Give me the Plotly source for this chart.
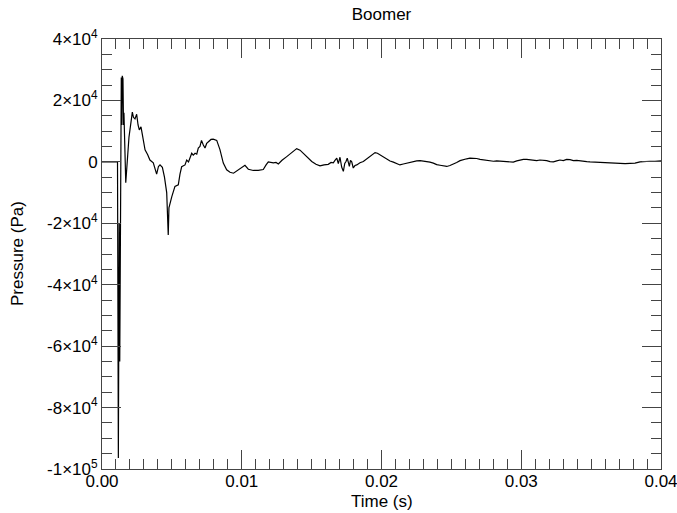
import plotly.graph_objects as go

# time (s) and pressure (Pa)
time_s = [
    0.0, 0.00050, 0.00100, 0.00111, 0.00117, 0.00123, 0.00127, 0.00138, 0.00142,
    0.00145, 0.00147, 0.00150, 0.00154, 0.00157, 0.00170, 0.00179, 0.00193,
    0.00217, 0.00225, 0.00236, 0.00248, 0.00258, 0.00267, 0.00279, 0.00293,
    0.00308, 0.00327, 0.00343, 0.00367, 0.00391, 0.00404, 0.00415, 0.00432,
    0.00447, 0.00463, 0.00474, 0.00479, 0.00487, 0.00499, 0.00522, 0.00546,
    0.00558, 0.00570, 0.00594, 0.00606, 0.00619, 0.00630, 0.00642, 0.00653,
    0.00666, 0.00678, 0.00689, 0.00701, 0.00712, 0.00725, 0.00737, 0.00749,
    0.00761, 0.00780, 0.00796, 0.00821, 0.00844, 0.00868, 0.00892, 0.00916,
    0.00941, 0.00964, 0.00988, 0.01002, 0.01023, 0.01047, 0.01083, 0.01118,
    0.01154, 0.01174, 0.01190, 0.01226, 0.01245, 0.01262, 0.01288, 0.01322,
    0.01358, 0.01393, 0.01417, 0.01441, 0.01474, 0.01501, 0.01531, 0.01560,
    0.01589, 0.01619, 0.01639, 0.01655, 0.01667, 0.01680, 0.01691, 0.01703,
    0.01715, 0.01727, 0.01737, 0.01746, 0.01755, 0.01770, 0.01778, 0.01787,
    0.01798, 0.01810, 0.01823, 0.01846, 0.01870, 0.01894, 0.01918, 0.01940,
    0.01954, 0.01971, 0.01989, 0.02013, 0.02037, 0.02061, 0.02085, 0.02109,
    0.02132, 0.02156, 0.02180, 0.02204, 0.02228, 0.02252, 0.02276, 0.02299,
    0.02323, 0.02347, 0.02371, 0.02395, 0.02419, 0.02443, 0.02467, 0.02490,
    0.02514, 0.02538, 0.02562, 0.02586, 0.02610, 0.02633, 0.02657, 0.02681,
    0.02705, 0.02729, 0.02753, 0.02777, 0.02801, 0.02824, 0.02848, 0.02872,
    0.02896, 0.02920, 0.02943, 0.02968, 0.02991, 0.03015, 0.03039, 0.03063,
    0.03086, 0.03111, 0.03134, 0.03158, 0.03182, 0.03206, 0.03230, 0.03254,
    0.03277, 0.03301, 0.03325, 0.03349, 0.03373, 0.03397, 0.03421, 0.03444,
    0.03469, 0.03492, 0.03528, 0.03564, 0.03599, 0.03635, 0.03671, 0.03707,
    0.03743, 0.03778, 0.03814, 0.03850, 0.03886, 0.03921, 0.03957, 0.04000,
]
pressure_pa = [
    0, 0, 0, 0, -96400, -20000, -65000, 27500, 12000,
    28000, 13000, 27000, 12000, 16000, -6800, -2000, 8000,
    16200, 14500, 14000, 15500, 12000, 10400, 11400, 7000,
    3900, 2300, 600, -300, -4000, -1500, -1000, -1800,
    -5000, -10000, -23800, -15000, -13300, -11400, -8000, -7500,
    -4000, -1600, -1000, 600, 0, 1700, 2800, 2200,
    2800, 2500, 4500, 5000, 7000, 5500, 4500, 6000,
    6600, 7300, 7400, 7000, 4000, -400, -2600, -3400,
    -3700, -3000, -2300, -2000, -1100, -2400, -2800, -2800,
    -2500, -1000, 0, -300, -200, -700, 500, 1700,
    3000, 4300, 3800, 2800, 1300, 100, -800, -1300,
    -1000, -800, -200, -300, 500, 1200, -600, 1500,
    -1700, -3100, -500, 100, 1200, -1500, 500, 0,
    -2000, -1200, -1000, -300, 100, 900, 1700, 2600,
    3000, 2800, 2300, 1600, 900, 300, -100, -600,
    -1000, -700, -400, -200, 100, 300, 400, 300,
    100, -100, -400, -900, -1100, -1400, -1500, -1200,
    -800, -200, 400, 800, 1000, 1200, 1200, 1100,
    800, 600, 500, 400, 200, 300, 200, 100,
    100, 0, -100, 300, 600, 800, 800, 600,
    500, 400, 600, 600, 400, 100, 0, 300,
    600, 400, 800, 700, 400, 500, 300, 200,
    100, 0, -100, -200, -400, -400, -600, -700,
    -600, -500, -400, 0, 200, 200, 200, 300,
]

y_ticks = [-100000, -80000, -60000, -40000, -20000, 0, 20000, 40000]
y_tick_text = ['-1×10<sup>5</sup>', '-8×10<sup>4</sup>', '-6×10<sup>4</sup>',
               '-4×10<sup>4</sup>', '-2×10<sup>4</sup>', '0',
               '2×10<sup>4</sup>', '4×10<sup>4</sup>']
x_ticks = [0.0, 0.01, 0.02, 0.03, 0.04]
x_tick_text = ['0.00', '0.01', '0.02', '0.03', '0.04']

font_family = 'Liberation Sans, Arial, sans-serif'

fig = go.Figure(go.Scatter(
    x=time_s, y=pressure_pa, mode='lines',
    line=dict(color='black', width=1.2),
    showlegend=False,
))

axis_common = dict(
    showgrid=False, zeroline=False, automargin=False,
    showline=True, linecolor='#444', linewidth=1,
    mirror='ticks', ticks='inside', ticklen=19, tickwidth=1, tickcolor='#444',
    tickfont=dict(family=font_family, size=17, color='black'),
    ticklabeloverflow='allow',
)

fig.update_xaxes(
    range=[0, 0.04], tickvals=x_ticks, ticktext=x_tick_text,
    minor=dict(dtick=0.001, ticks='inside', ticklen=10, tickcolor='#444'),
    ticklabelstandoff=-3,
    **axis_common,
)
fig.update_yaxes(
    range=[-100000, 40000], tickvals=y_ticks, ticktext=y_tick_text,
    minor=dict(dtick=5000, ticks='inside', ticklen=10, tickcolor='#444'),
    **axis_common,
)

fig.update_layout(
    width=677, height=513,
    margin=dict(l=102, r=16, t=39, b=44),
    plot_bgcolor='white', paper_bgcolor='white',
    font=dict(family=font_family, size=17, color='black'),
    title=dict(text='Boomer', x=0.5635, xanchor='center', y=0.9727, yanchor='middle',
               font=dict(size=17)),
    annotations=[
        dict(text='Time (s)', xref='paper', yref='paper', x=0.5, y=-0.0745,
             xanchor='center', yanchor='middle', showarrow=False, font=dict(size=17)),
        dict(text='Pressure (Pa)', xref='paper', yref='paper', x=-0.152, y=0.5,
             xanchor='center', yanchor='middle', textangle=-90, showarrow=False,
             font=dict(size=17)),
    ],
)

# drop the browser's default 8px body margin so the figure fills the window
fig.write_html("out.html", config={'displayModeBar': False},
               post_script="document.body.style.margin='0';")
